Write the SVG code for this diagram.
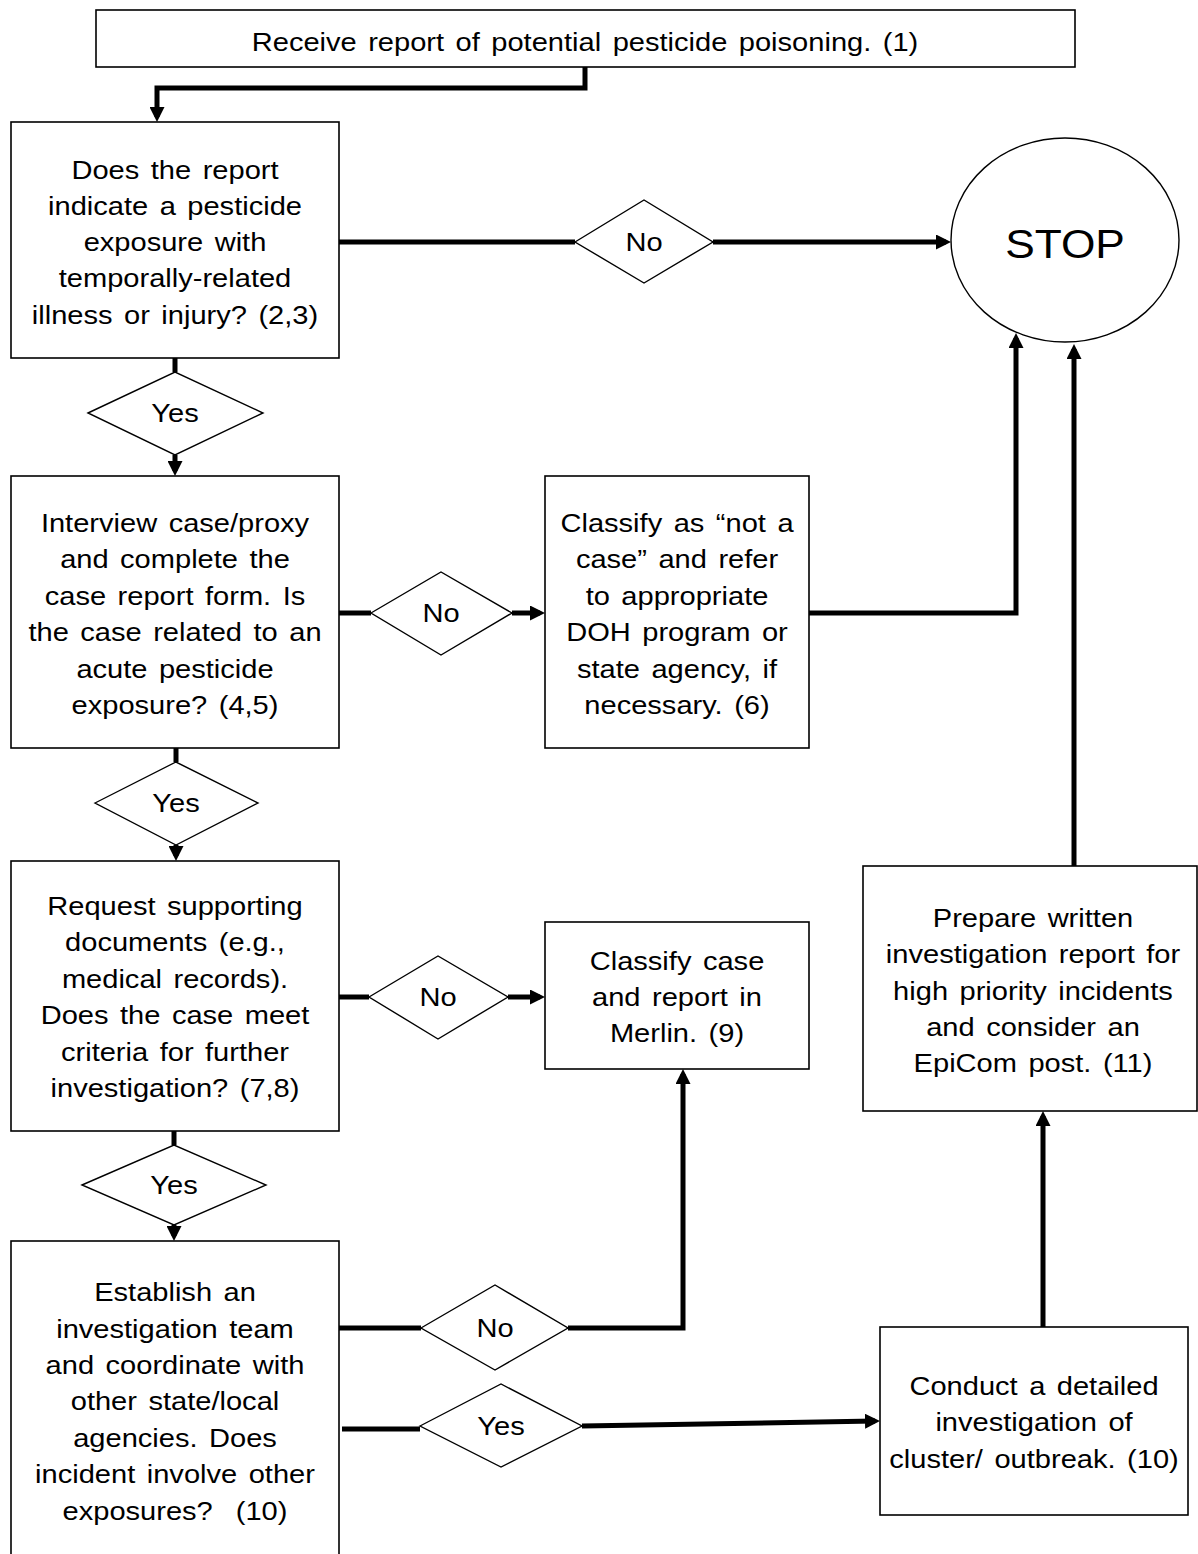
<svg xmlns="http://www.w3.org/2000/svg" width="1198" height="1554" viewBox="0 0 1198 1554">
<style>
.bg{fill:#fff}
.box{fill:#fff;stroke:#000;stroke-width:1.6}
.dia{fill:#fff;stroke:#000;stroke-width:1.4}
.ell{fill:#fff;stroke:#000;stroke-width:1.4}
.con{fill:none;stroke:#000;stroke-width:5}
.t{font-family:"Liberation Sans",Arial,sans-serif;font-size:25.5px;text-anchor:middle;fill:#000;word-spacing:3px}
.stop{font-family:"Liberation Sans",Arial,sans-serif;font-size:41px;text-anchor:middle;fill:#000}
</style>
<defs>
<marker id="ah" markerUnits="userSpaceOnUse" markerWidth="15" markerHeight="15" viewBox="0 0 15 15" refX="10" refY="7.5" orient="auto">
<path d="M0,0 L15,7.5 L0,15 z" fill="#000"/>
</marker>
</defs>
<rect class="bg" x="0" y="0" width="1198" height="1554"/>

<g id="connectors">
<path class="con" d="M585,67 V88 H157 V117" marker-end="url(#ah)"/>
<path class="con" d="M175,358 V372"/>
<path class="con" d="M175,455 V471" marker-end="url(#ah)"/>
<path class="con" d="M339,242 H575"/>
<path class="con" d="M713,242 H946" marker-end="url(#ah)"/>
<path class="con" d="M339,613 H371"/>
<path class="con" d="M512,613 H540" marker-end="url(#ah)"/>
<path class="con" d="M809,613 H1016 V338" marker-end="url(#ah)"/>
<path class="con" d="M176,748 V762"/>
<path class="con" d="M176,845 V856" marker-end="url(#ah)"/>
<path class="con" d="M339,997 H369"/>
<path class="con" d="M508,997 H540" marker-end="url(#ah)"/>
<path class="con" d="M174,1131 V1145"/>
<path class="con" d="M174,1225 V1236" marker-end="url(#ah)"/>
<path class="con" d="M339,1328 H421"/>
<path class="con" d="M568,1328 H683 V1074" marker-end="url(#ah)"/>
<path class="con" d="M342,1429 H420"/>
<path class="con" d="M582,1426 L875,1421" marker-end="url(#ah)"/>
<path class="con" d="M1043,1327 V1116" marker-end="url(#ah)"/>
<path class="con" d="M1074,866 V349" marker-end="url(#ah)"/>
</g>

<g id="n1">
<rect class="box" x="96" y="10" width="979" height="57"/>
<g transform="translate(585 0) scale(1.14 1)"><text class="t" x="0" y="51">Receive report of potential pesticide poisoning. (1)</text></g>
</g>

<g id="n2">
<rect class="box" x="11" y="122" width="328" height="236"/>
<g transform="translate(175 0) scale(1.14 1)">
<text class="t" x="0" y="179">Does the report</text>
<text class="t" x="0" y="215">indicate a pesticide</text>
<text class="t" x="0" y="251">exposure with</text>
<text class="t" x="0" y="287">temporally-related</text>
<text class="t" x="0" y="324">illness or injury? (2,3)</text>
</g>
</g>

<g id="stop">
<ellipse class="ell" cx="1065" cy="240" rx="114" ry="102"/>
<g transform="translate(1065 0) scale(1.08 1)"><text class="stop" x="0" y="258">STOP</text></g>
</g>

<g id="d_no1">
<polygon class="dia" points="575,242 644,200 713,242 644,283"/>
<g transform="translate(644 0) scale(1.14 1)"><text class="t" x="0" y="251">No</text></g>
</g>

<g id="d_yes1">
<polygon class="dia" points="88,413 175,372 263,413 175,455"/>
<g transform="translate(175 0) scale(1.14 1)"><text class="t" x="0" y="422">Yes</text></g>
</g>

<g id="n3">
<rect class="box" x="11" y="476" width="328" height="272"/>
<g transform="translate(175 0) scale(1.14 1)">
<text class="t" x="0" y="532">Interview case/proxy</text>
<text class="t" x="0" y="568">and complete the</text>
<text class="t" x="0" y="605">case report form. Is</text>
<text class="t" x="0" y="641">the case related to an</text>
<text class="t" x="0" y="678">acute pesticide</text>
<text class="t" x="0" y="714">exposure? (4,5)</text>
</g>
</g>

<g id="d_no2">
<polygon class="dia" points="371,613 441,572 512,613 441,655"/>
<g transform="translate(441 0) scale(1.14 1)"><text class="t" x="0" y="622">No</text></g>
</g>

<g id="n4">
<rect class="box" x="545" y="476" width="264" height="272"/>
<g transform="translate(677 0) scale(1.14 1)">
<text class="t" x="0" y="532">Classify as “not a</text>
<text class="t" x="0" y="568">case” and refer</text>
<text class="t" x="0" y="605">to appropriate</text>
<text class="t" x="0" y="641">DOH program or</text>
<text class="t" x="0" y="678">state agency, if</text>
<text class="t" x="0" y="714">necessary. (6)</text>
</g>
</g>

<g id="d_yes2">
<polygon class="dia" points="95,803 176,762 258,803 176,845"/>
<g transform="translate(176 0) scale(1.14 1)"><text class="t" x="0" y="812">Yes</text></g>
</g>

<g id="n5">
<rect class="box" x="11" y="861" width="328" height="270"/>
<g transform="translate(175 0) scale(1.14 1)">
<text class="t" x="0" y="915">Request supporting</text>
<text class="t" x="0" y="951">documents (e.g.,</text>
<text class="t" x="0" y="988">medical records).</text>
<text class="t" x="0" y="1024">Does the case meet</text>
<text class="t" x="0" y="1061">criteria for further</text>
<text class="t" x="0" y="1097">investigation? (7,8)</text>
</g>
</g>

<g id="d_no3">
<polygon class="dia" points="369,997 438,956 508,997 438,1039"/>
<g transform="translate(438 0) scale(1.14 1)"><text class="t" x="0" y="1006">No</text></g>
</g>

<g id="n6">
<rect class="box" x="545" y="922" width="264" height="147"/>
<g transform="translate(677 0) scale(1.14 1)">
<text class="t" x="0" y="970">Classify case</text>
<text class="t" x="0" y="1006">and report in</text>
<text class="t" x="0" y="1042">Merlin. (9)</text>
</g>
</g>

<g id="d_yes3">
<polygon class="dia" points="82,1185 174,1145 266,1185 174,1225"/>
<g transform="translate(174 0) scale(1.14 1)"><text class="t" x="0" y="1194">Yes</text></g>
</g>

<g id="n7">
<rect class="box" x="11" y="1241" width="328" height="330"/>
<g transform="translate(175 0) scale(1.14 1)">
<text class="t" x="0" y="1301">Establish an</text>
<text class="t" x="0" y="1338">investigation team</text>
<text class="t" x="0" y="1374">and coordinate with</text>
<text class="t" x="0" y="1410">other state/local</text>
<text class="t" x="0" y="1447">agencies. Does</text>
<text class="t" x="0" y="1483">incident involve other</text>
<text class="t" x="0" y="1520">exposures?&#160; (10)</text>
</g>
</g>

<g id="d_no4">
<polygon class="dia" points="421,1328 495,1285 568,1328 495,1370"/>
<g transform="translate(495 0) scale(1.14 1)"><text class="t" x="0" y="1337">No</text></g>
</g>

<g id="d_yes4">
<polygon class="dia" points="420,1426 501,1384 582,1426 501,1467"/>
<g transform="translate(501 0) scale(1.14 1)"><text class="t" x="0" y="1435">Yes</text></g>
</g>

<g id="n8">
<rect class="box" x="880" y="1327" width="308" height="188"/>
<g transform="translate(1034 0) scale(1.14 1)">
<text class="t" x="0" y="1395">Conduct a detailed</text>
<text class="t" x="0" y="1431">investigation of</text>
<text class="t" x="0" y="1468">cluster/ outbreak. (10)</text>
</g>
</g>

<g id="n9">
<rect class="box" x="863" y="866" width="334" height="245"/>
<g transform="translate(1033 0) scale(1.14 1)">
<text class="t" x="0" y="927">Prepare written</text>
<text class="t" x="0" y="963">investigation report for</text>
<text class="t" x="0" y="1000">high priority incidents</text>
<text class="t" x="0" y="1036">and consider an</text>
<text class="t" x="0" y="1072">EpiCom post. (11)</text>
</g>
</g>
</svg>
